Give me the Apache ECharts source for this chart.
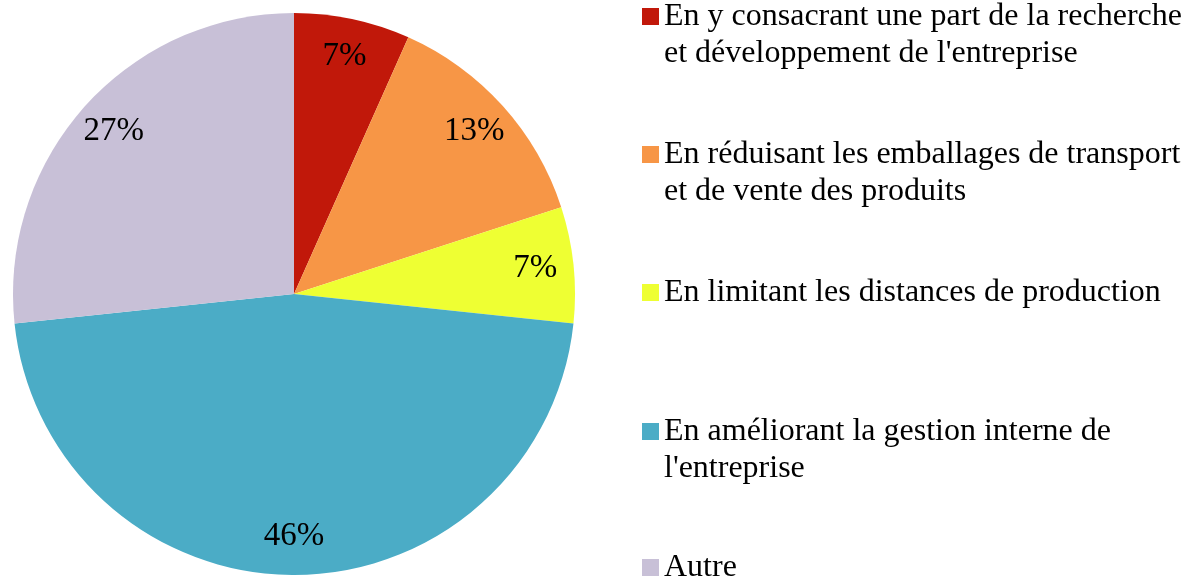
<!DOCTYPE html>
<html>
<head>
<meta charset="utf-8">
<script src="https://cdn.jsdelivr.net/npm/echarts@6/dist/echarts.min.js"></script>
<style>
  html, body { margin: 0; padding: 0; background: #fff; }
  #chart { width: 1195px; height: 581px; }
</style>
</head>
<body>
<div id="chart"></div>
<script>
  // catégories et parts (%)
  const categories = [
    "En y consacrant une part de la recherche\net développement de l'entreprise",
    "En réduisant les emballages de transport\net de vente des produits",
    "En limitant les distances de production",
    "En améliorant la gestion interne de\nl'entreprise",
    "Autre"
  ];
  const values = [6.67, 13.33, 6.67, 46.67, 26.67];
  // étiquettes telles qu'affichées sur le graphique
  const labels = ['7%', '13%', '7%', '46%', '27%'];
  const colors = ['#C1180A', '#F79646', '#EEFF33', '#4BACC6', '#C8C0D7'];

  // position verticale de chaque entrée de légende
  const legendTops = [-39, 99, 274, 376, 549];

  const data = categories.map((name, i) => ({ name: name, value: values[i] }));

  // une légende par entrée, l'icône alignée sur la première ligne
  const legends = categories.map((name, i) => ({
    data: [name],
    left: 642,
    top: legendTops[i],
    padding: 0,
    itemWidth: 17,
    itemHeight: 17,
    itemGap: 0,
    icon: 'rect',
    selectedMode: false,
    formatter: n => (n.indexOf('\n') >= 0 ? '\n' + n : n),
    textStyle: {
      fontFamily: 'Liberation Serif',
      fontSize: 32,
      lineHeight: 37,
      color: '#000'
    }
  }));

  const chart = echarts.init(document.getElementById('chart'));
  chart.setOption({
    animation: false,
    color: colors,
    legend: legends,
    series: [
      {
        type: 'pie',
        center: [294, 294],
        radius: [0, 281],
        startAngle: 90,
        silent: true,
        data: data,
        label: { show: false },
        labelLine: { show: false },
        itemStyle: { borderWidth: 0 }
      },
      {
        // série transparente servant à placer les étiquettes
        type: 'pie',
        center: [294, 294],
        radius: [198, 281],
        startAngle: 90,
        silent: true,
        data: data,
        itemStyle: { color: 'rgba(0,0,0,0)', borderWidth: 0 },
        labelLine: { show: false },
        label: {
          show: true,
          position: 'inside',
          formatter: p => labels[p.dataIndex],
          fontFamily: 'Liberation Serif',
          fontStyle: 'normal',
          fontSize: 33,
          color: '#000'
        }
      }
    ]
  });
</script>
</body>
</html>
